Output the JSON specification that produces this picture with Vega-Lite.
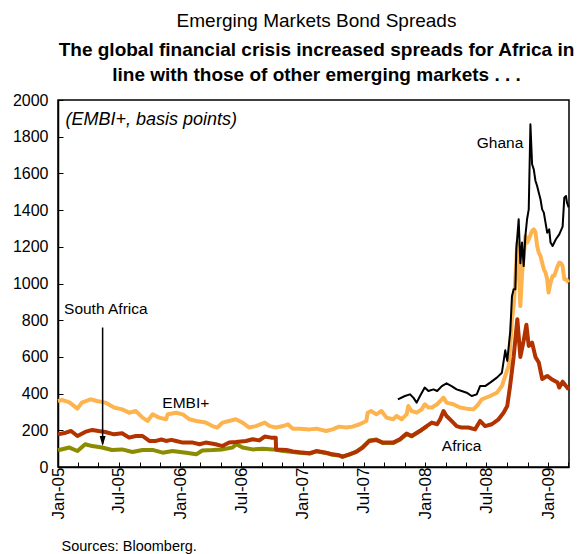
{
  "$schema": "https://vega.github.io/schema/vega-lite/v6.json",
  "width": 511,
  "height": 367,
  "autosize": "none",
  "padding": {"left": 58, "top": 100, "right": 9, "bottom": 87},
  "background": "#ffffff",
  "config": {
    "font": "Liberation Sans",
    "view": {"stroke": "#000000", "strokeWidth": 1.5},
    "axis": {"domainColor": "#000000", "tickColor": "#000000", "labelColor": "#000000", "grid": false, "domainWidth": 1.5, "tickWidth": 1}
  },
  "title": {
    "text": "Emerging Markets Bond Spreads",
    "subtitle": ["The global financial crisis increased spreads for Africa in", "line with those of other emerging markets . . ."],
    "anchor": "middle",
    "fontSize": 19,
    "fontWeight": "normal",
    "color": "#000000",
    "subtitleFontSize": 19,
    "subtitleFontWeight": "bold",
    "subtitleColor": "#000000",
    "subtitleLineHeight": 25,
    "subtitlePadding": 10,
    "offset": 7,
    "dx": 3
  },
  "datasets": {
    "series": [
      {"s":"EMBI+","d":"2005-01-01","v":360},{"s":"EMBI+","d":"2005-01-15","v":365},{"s":"EMBI+","d":"2005-02-04","v":352},{"s":"EMBI+","d":"2005-02-28","v":318},{"s":"EMBI+","d":"2005-03-13","v":351},{"s":"EMBI+","d":"2005-04-08","v":369},{"s":"EMBI+","d":"2005-04-27","v":360},{"s":"EMBI+","d":"2005-05-22","v":351},{"s":"EMBI+","d":"2005-06-17","v":324},{"s":"EMBI+","d":"2005-07-11","v":314},{"s":"EMBI+","d":"2005-08-01","v":296},{"s":"EMBI+","d":"2005-08-21","v":305},{"s":"EMBI+","d":"2005-09-10","v":269},{"s":"EMBI+","d":"2005-09-25","v":251},{"s":"EMBI+","d":"2005-10-10","v":287},{"s":"EMBI+","d":"2005-10-29","v":269},{"s":"EMBI+","d":"2005-11-19","v":260},{"s":"EMBI+","d":"2005-11-24","v":287},{"s":"EMBI+","d":"2005-12-19","v":296},{"s":"EMBI+","d":"2006-01-08","v":287},{"s":"EMBI+","d":"2006-01-28","v":260},{"s":"EMBI+","d":"2006-02-17","v":251},{"s":"EMBI+","d":"2006-03-17","v":242},{"s":"EMBI+","d":"2006-04-06","v":223},{"s":"EMBI+","d":"2006-04-21","v":215},{"s":"EMBI+","d":"2006-05-06","v":242},{"s":"EMBI+","d":"2006-05-26","v":251},{"s":"EMBI+","d":"2006-06-15","v":260},{"s":"EMBI+","d":"2006-07-05","v":242},{"s":"EMBI+","d":"2006-07-25","v":215},{"s":"EMBI+","d":"2006-08-14","v":223},{"s":"EMBI+","d":"2006-09-09","v":242},{"s":"EMBI+","d":"2006-09-24","v":223},{"s":"EMBI+","d":"2006-10-13","v":215},{"s":"EMBI+","d":"2006-11-03","v":223},{"s":"EMBI+","d":"2006-11-17","v":233},{"s":"EMBI+","d":"2006-12-02","v":209},{"s":"EMBI+","d":"2006-12-22","v":209},{"s":"EMBI+","d":"2007-01-21","v":205},{"s":"EMBI+","d":"2007-02-10","v":209},{"s":"EMBI+","d":"2007-03-11","v":196},{"s":"EMBI+","d":"2007-03-30","v":205},{"s":"EMBI+","d":"2007-04-19","v":220},{"s":"EMBI+","d":"2007-05-10","v":215},{"s":"EMBI+","d":"2007-05-29","v":220},{"s":"EMBI+","d":"2007-06-19","v":233},{"s":"EMBI+","d":"2007-07-09","v":251},{"s":"EMBI+","d":"2007-07-13","v":296},{"s":"EMBI+","d":"2007-07-23","v":305},{"s":"EMBI+","d":"2007-08-08","v":287},{"s":"EMBI+","d":"2007-08-23","v":305},{"s":"EMBI+","d":"2007-09-07","v":269},{"s":"EMBI+","d":"2007-09-27","v":260},{"s":"EMBI+","d":"2007-10-07","v":278},{"s":"EMBI+","d":"2007-10-22","v":260},{"s":"EMBI+","d":"2007-11-06","v":287},{"s":"EMBI+","d":"2007-11-11","v":332},{"s":"EMBI+","d":"2007-11-21","v":305},{"s":"EMBI+","d":"2007-12-06","v":296},{"s":"EMBI+","d":"2007-12-21","v":314},{"s":"EMBI+","d":"2007-12-30","v":342},{"s":"EMBI+","d":"2008-01-10","v":324},{"s":"EMBI+","d":"2008-01-20","v":324},{"s":"EMBI+","d":"2008-02-05","v":342},{"s":"EMBI+","d":"2008-02-24","v":378},{"s":"EMBI+","d":"2008-03-04","v":351},{"s":"EMBI+","d":"2008-03-24","v":342},{"s":"EMBI+","d":"2008-04-13","v":324},{"s":"EMBI+","d":"2008-05-03","v":318},{"s":"EMBI+","d":"2008-05-23","v":314},{"s":"EMBI+","d":"2008-06-07","v":342},{"s":"EMBI+","d":"2008-06-17","v":369},{"s":"EMBI+","d":"2008-07-12","v":387},{"s":"EMBI+","d":"2008-08-01","v":405},{"s":"EMBI+","d":"2008-08-16","v":441},{"s":"EMBI+","d":"2008-08-26","v":496},{"s":"EMBI+","d":"2008-09-05","v":550},{"s":"EMBI+","d":"2008-09-10","v":659},{"s":"EMBI+","d":"2008-09-15","v":805},{"s":"EMBI+","d":"2008-09-20","v":877},{"s":"EMBI+","d":"2008-09-25","v":1023},{"s":"EMBI+","d":"2008-10-01","v":1223},{"s":"EMBI+","d":"2008-10-05","v":1114},{"s":"EMBI+","d":"2008-10-10","v":877},{"s":"EMBI+","d":"2008-10-15","v":1050},{"s":"EMBI+","d":"2008-10-20","v":1150},{"s":"EMBI+","d":"2008-10-25","v":1259},{"s":"EMBI+","d":"2008-10-30","v":1223},{"s":"EMBI+","d":"2008-11-04","v":1241},{"s":"EMBI+","d":"2008-11-14","v":1286},{"s":"EMBI+","d":"2008-11-19","v":1295},{"s":"EMBI+","d":"2008-11-24","v":1280},{"s":"EMBI+","d":"2008-11-29","v":1204},{"s":"EMBI+","d":"2008-12-04","v":1168},{"s":"EMBI+","d":"2008-12-09","v":1150},{"s":"EMBI+","d":"2008-12-19","v":1077},{"s":"EMBI+","d":"2008-12-24","v":1060},{"s":"EMBI+","d":"2008-12-29","v":1023},{"s":"EMBI+","d":"2009-01-02","v":951},{"s":"EMBI+","d":"2009-01-08","v":1005},{"s":"EMBI+","d":"2009-01-14","v":1041},{"s":"EMBI+","d":"2009-01-19","v":1041},{"s":"EMBI+","d":"2009-01-29","v":1095},{"s":"EMBI+","d":"2009-02-03","v":1114},{"s":"EMBI+","d":"2009-02-08","v":1110},{"s":"EMBI+","d":"2009-02-13","v":1095},{"s":"EMBI+","d":"2009-02-18","v":1023},{"s":"EMBI+","d":"2009-02-23","v":1023},{"s":"EMBI+","d":"2009-03-03","v":1005},

      {"s":"South Africa","d":"2005-01-01","v":91},{"s":"South Africa","d":"2005-02-04","v":106},{"s":"South Africa","d":"2005-02-28","v":87},{"s":"South Africa","d":"2005-03-23","v":124},{"s":"South Africa","d":"2005-04-13","v":114},{"s":"South Africa","d":"2005-05-12","v":106},{"s":"South Africa","d":"2005-06-11","v":93},{"s":"South Africa","d":"2005-07-11","v":96},{"s":"South Africa","d":"2005-08-11","v":82},{"s":"South Africa","d":"2005-09-10","v":93},{"s":"South Africa","d":"2005-10-10","v":93},{"s":"South Africa","d":"2005-11-09","v":78},{"s":"South Africa","d":"2005-12-08","v":87},{"s":"South Africa","d":"2006-01-18","v":78},{"s":"South Africa","d":"2006-02-17","v":69},{"s":"South Africa","d":"2006-03-07","v":90},{"s":"South Africa","d":"2006-04-06","v":92},{"s":"South Africa","d":"2006-05-06","v":96},{"s":"South Africa","d":"2006-06-05","v":106},{"s":"South Africa","d":"2006-06-17","v":124},{"s":"South Africa","d":"2006-07-05","v":106},{"s":"South Africa","d":"2006-08-04","v":96},{"s":"South Africa","d":"2006-09-04","v":100},{"s":"South Africa","d":"2006-10-03","v":96},{"s":"South Africa","d":"2006-11-03","v":87},{"s":"South Africa","d":"2006-12-02","v":82},{"s":"South Africa","d":"2006-12-22","v":78},{"s":"South Africa","d":"2007-01-21","v":73},{"s":"South Africa","d":"2007-02-10","v":85},{"s":"South Africa","d":"2007-03-11","v":76},{"s":"South Africa","d":"2007-03-30","v":67},{"s":"South Africa","d":"2007-04-19","v":62},{"s":"South Africa","d":"2007-04-29","v":55},{"s":"South Africa","d":"2007-05-19","v":67},{"s":"South Africa","d":"2007-06-09","v":84},{"s":"South Africa","d":"2007-06-28","v":108},{"s":"South Africa","d":"2007-07-18","v":144},{"s":"South Africa","d":"2007-08-08","v":150},{"s":"South Africa","d":"2007-08-27","v":131},{"s":"South Africa","d":"2007-09-27","v":131},{"s":"South Africa","d":"2007-10-17","v":149},{"s":"South Africa","d":"2007-11-06","v":180},{"s":"South Africa","d":"2007-11-21","v":167},{"s":"South Africa","d":"2007-12-15","v":194},{"s":"South Africa","d":"2008-01-05","v":221},

      {"s":"Africa","d":"2005-01-01","v":178},{"s":"Africa","d":"2005-01-24","v":187},{"s":"Africa","d":"2005-02-09","v":196},{"s":"Africa","d":"2005-02-28","v":169},{"s":"Africa","d":"2005-03-23","v":191},{"s":"Africa","d":"2005-04-13","v":202},{"s":"Africa","d":"2005-05-02","v":196},{"s":"Africa","d":"2005-05-22","v":191},{"s":"Africa","d":"2005-06-17","v":178},{"s":"Africa","d":"2005-07-11","v":184},{"s":"Africa","d":"2005-08-01","v":160},{"s":"Africa","d":"2005-08-21","v":169},{"s":"Africa","d":"2005-09-10","v":169},{"s":"Africa","d":"2005-09-30","v":142},{"s":"Africa","d":"2005-10-20","v":142},{"s":"Africa","d":"2005-11-05","v":150},{"s":"Africa","d":"2005-11-19","v":142},{"s":"Africa","d":"2005-12-05","v":148},{"s":"Africa","d":"2005-12-19","v":142},{"s":"Africa","d":"2006-01-08","v":133},{"s":"Africa","d":"2006-02-07","v":133},{"s":"Africa","d":"2006-02-27","v":124},{"s":"Africa","d":"2006-03-17","v":133},{"s":"Africa","d":"2006-04-16","v":124},{"s":"Africa","d":"2006-05-06","v":114},{"s":"Africa","d":"2006-05-26","v":133},{"s":"Africa","d":"2006-06-15","v":136},{"s":"Africa","d":"2006-07-15","v":142},{"s":"Africa","d":"2006-08-04","v":151},{"s":"Africa","d":"2006-08-24","v":145},{"s":"Africa","d":"2006-09-09","v":166},{"s":"Africa","d":"2006-09-28","v":160},{"s":"Africa","d":"2006-10-12","v":160},{"s":"Africa","d":"2006-10-13","v":96},{"s":"Africa","d":"2006-11-13","v":93},{"s":"Africa","d":"2006-12-02","v":85},{"s":"Africa","d":"2006-12-22","v":80},{"s":"Africa","d":"2007-01-21","v":75},{"s":"Africa","d":"2007-02-10","v":87},{"s":"Africa","d":"2007-03-11","v":78},{"s":"Africa","d":"2007-03-30","v":69},{"s":"Africa","d":"2007-04-19","v":64},{"s":"Africa","d":"2007-04-29","v":57},{"s":"Africa","d":"2007-05-19","v":69},{"s":"Africa","d":"2007-06-09","v":82},{"s":"Africa","d":"2007-06-28","v":106},{"s":"Africa","d":"2007-07-18","v":142},{"s":"Africa","d":"2007-08-08","v":147},{"s":"Africa","d":"2007-08-27","v":133},{"s":"Africa","d":"2007-09-27","v":133},{"s":"Africa","d":"2007-10-17","v":151},{"s":"Africa","d":"2007-11-06","v":182},{"s":"Africa","d":"2007-11-21","v":169},{"s":"Africa","d":"2007-12-15","v":196},{"s":"Africa","d":"2008-01-05","v":223},{"s":"Africa","d":"2008-01-20","v":242},{"s":"Africa","d":"2008-02-05","v":233},{"s":"Africa","d":"2008-02-14","v":260},{"s":"Africa","d":"2008-02-24","v":305},{"s":"Africa","d":"2008-03-04","v":278},{"s":"Africa","d":"2008-03-19","v":251},{"s":"Africa","d":"2008-04-03","v":223},{"s":"Africa","d":"2008-04-18","v":215},{"s":"Africa","d":"2008-05-08","v":215},{"s":"Africa","d":"2008-05-28","v":205},{"s":"Africa","d":"2008-06-12","v":251},{"s":"Africa","d":"2008-06-27","v":223},{"s":"Africa","d":"2008-07-17","v":233},{"s":"Africa","d":"2008-08-06","v":260},{"s":"Africa","d":"2008-08-21","v":296},{"s":"Africa","d":"2008-09-01","v":332},{"s":"Africa","d":"2008-09-10","v":450},{"s":"Africa","d":"2008-09-20","v":600},{"s":"Africa","d":"2008-10-01","v":805},{"s":"Africa","d":"2008-10-10","v":600},{"s":"Africa","d":"2008-10-20","v":690},{"s":"Africa","d":"2008-10-28","v":775},{"s":"Africa","d":"2008-11-04","v":660},{"s":"Africa","d":"2008-11-14","v":678},{"s":"Africa","d":"2008-11-24","v":600},{"s":"Africa","d":"2008-12-04","v":569},{"s":"Africa","d":"2008-12-14","v":480},{"s":"Africa","d":"2008-12-29","v":496},{"s":"Africa","d":"2009-01-14","v":475},{"s":"Africa","d":"2009-01-29","v":460},{"s":"Africa","d":"2009-02-03","v":433},{"s":"Africa","d":"2009-02-13","v":465},{"s":"Africa","d":"2009-02-23","v":441},{"s":"Africa","d":"2009-03-03","v":423},

      {"s":"Ghana","d":"2007-10-11","v":369},{"s":"Ghana","d":"2007-11-01","v":387},{"s":"Ghana","d":"2007-11-16","v":396},{"s":"Ghana","d":"2007-11-26","v":378},{"s":"Ghana","d":"2007-12-06","v":351},{"s":"Ghana","d":"2007-12-16","v":387},{"s":"Ghana","d":"2007-12-30","v":433},{"s":"Ghana","d":"2008-01-10","v":414},{"s":"Ghana","d":"2008-01-25","v":423},{"s":"Ghana","d":"2008-02-05","v":414},{"s":"Ghana","d":"2008-02-19","v":441},{"s":"Ghana","d":"2008-03-04","v":456},{"s":"Ghana","d":"2008-03-19","v":441},{"s":"Ghana","d":"2008-04-03","v":423},{"s":"Ghana","d":"2008-04-18","v":414},{"s":"Ghana","d":"2008-05-03","v":405},{"s":"Ghana","d":"2008-05-18","v":387},{"s":"Ghana","d":"2008-06-02","v":396},{"s":"Ghana","d":"2008-06-12","v":441},{"s":"Ghana","d":"2008-06-27","v":441},{"s":"Ghana","d":"2008-07-12","v":460},{"s":"Ghana","d":"2008-08-01","v":487},{"s":"Ghana","d":"2008-08-16","v":514},{"s":"Ghana","d":"2008-08-26","v":636},{"s":"Ghana","d":"2008-09-01","v":578},{"s":"Ghana","d":"2008-09-10","v":740},{"s":"Ghana","d":"2008-09-15","v":930},{"s":"Ghana","d":"2008-09-20","v":968},{"s":"Ghana","d":"2008-09-25","v":968},{"s":"Ghana","d":"2008-09-28","v":1186},{"s":"Ghana","d":"2008-10-05","v":1350},{"s":"Ghana","d":"2008-10-10","v":1110},{"s":"Ghana","d":"2008-10-15","v":1223},{"s":"Ghana","d":"2008-10-20","v":1095},{"s":"Ghana","d":"2008-10-25","v":1259},{"s":"Ghana","d":"2008-10-30","v":1350},{"s":"Ghana","d":"2008-11-04","v":1404},{"s":"Ghana","d":"2008-11-09","v":1868},{"s":"Ghana","d":"2008-11-14","v":1650},{"s":"Ghana","d":"2008-11-19","v":1622},{"s":"Ghana","d":"2008-11-24","v":1560},{"s":"Ghana","d":"2008-11-29","v":1531},{"s":"Ghana","d":"2008-12-04","v":1495},{"s":"Ghana","d":"2008-12-09","v":1459},{"s":"Ghana","d":"2008-12-14","v":1404},{"s":"Ghana","d":"2008-12-19","v":1386},{"s":"Ghana","d":"2008-12-24","v":1332},{"s":"Ghana","d":"2008-12-29","v":1277},{"s":"Ghana","d":"2009-01-04","v":1295},{"s":"Ghana","d":"2009-01-08","v":1223},{"s":"Ghana","d":"2009-01-14","v":1204},{"s":"Ghana","d":"2009-01-24","v":1241},{"s":"Ghana","d":"2009-02-03","v":1268},{"s":"Ghana","d":"2009-02-13","v":1310},{"s":"Ghana","d":"2009-02-18","v":1468},{"s":"Ghana","d":"2009-02-23","v":1477},{"s":"Ghana","d":"2009-02-26","v":1441},{"s":"Ghana","d":"2009-03-03","v":1415}
    ],
    "notes": [
      {"t":"Ghana","d":"2008-06-02","v":1768},
      {"t":"EMBI+","d":"2005-11-08","v":351},
      {"t":"Africa","d":"2008-02-19","v":114},
      {"t":"South Africa","d":"2005-01-19","v":863}
    ],
    "unitnote": [
      {"t":"(EMBI+, basis points)","d":"2005-01-23","v":1891}
    ],
    "arrow": [
      {"d":"2005-05-14","v":760,"v2":125}
    ],
    "arrowhead": [
      {"d":"2005-05-14","v":114}
    ]
  },
  "data": {"name": "series"},
  "encoding": {
    "x": {
      "field": "d",
      "type": "temporal",
      "scale": {"type": "utc", "domain": [{"year": 2005, "month": 1, "date": 1, "utc": true}, {"year": 2009, "month": 3, "date": 4, "utc": true}]},
      "axis": {
        "tickCount": {"interval": "month", "step": 2},
        "labelExpr": "utcmonth(datum.value) % 6 == 0 ? utcFormat(datum.value, '%b-%y') : ''",
        "labelAngle": 270,
        "labelFontSize": 17,
        "labelOverlap": false,
        "labelFlush": false,
        "tickSize": -5,
        "labelPadding": 5,
        "title": "Sources: Bloomberg.",
        "titleFontSize": 14.5,
        "titleFontWeight": "normal",
        "titleColor": "#000000",
        "titleAnchor": "start",
        "titleAlign": "left",
        "titleBaseline": "middle",
        "titleX": 3,
        "titleY": 79
      }
    },
    "y": {
      "field": "v",
      "type": "quantitative",
      "scale": {"domain": [0, 2000], "nice": false, "zero": true},
      "axis": {
        "values": [0, 200, 400, 600, 800, 1000, 1200, 1400, 1600, 1800, 2000],
        "format": "d",
        "labelFontSize": 16,
        "tickSize": -5,
        "labelPadding": 15,
        "title": null
      }
    }
  },
  "layer": [
    {"transform": [{"filter": "datum.s == 'EMBI+'"}], "mark": {"type": "line", "color": "#FDB44E", "strokeWidth": 4, "strokeJoin": "round"}},
    {"transform": [{"filter": "datum.s == 'South Africa'"}], "mark": {"type": "line", "color": "#8C8C00", "strokeWidth": 4, "strokeJoin": "round"}},
    {"transform": [{"filter": "datum.s == 'Africa'"}], "mark": {"type": "line", "color": "#B23300", "strokeWidth": 4, "strokeJoin": "round"}},
    {"transform": [{"filter": "datum.s == 'Ghana'"}], "mark": {"type": "line", "color": "#000000", "strokeWidth": 2, "strokeJoin": "round"}},
    {"data": {"name": "arrow"}, "mark": {"type": "rule", "color": "#000000", "strokeWidth": 1.5}, "encoding": {"y2": {"field": "v2"}}},
    {"data": {"name": "arrowhead"}, "mark": {"type": "point", "shape": "M-0.6,-2L0,0L0.6,-2Z", "size": 100, "filled": true, "color": "#000000", "opacity": 1}},
    {"data": {"name": "notes"}, "mark": {"type": "text", "align": "left", "baseline": "middle", "fontSize": 15.5, "color": "#000000"}, "encoding": {"text": {"field": "t"}}},
    {"data": {"name": "unitnote"}, "mark": {"type": "text", "align": "left", "baseline": "middle", "fontSize": 18, "fontStyle": "italic", "color": "#000000"}, "encoding": {"text": {"field": "t"}}}
  ]
}
